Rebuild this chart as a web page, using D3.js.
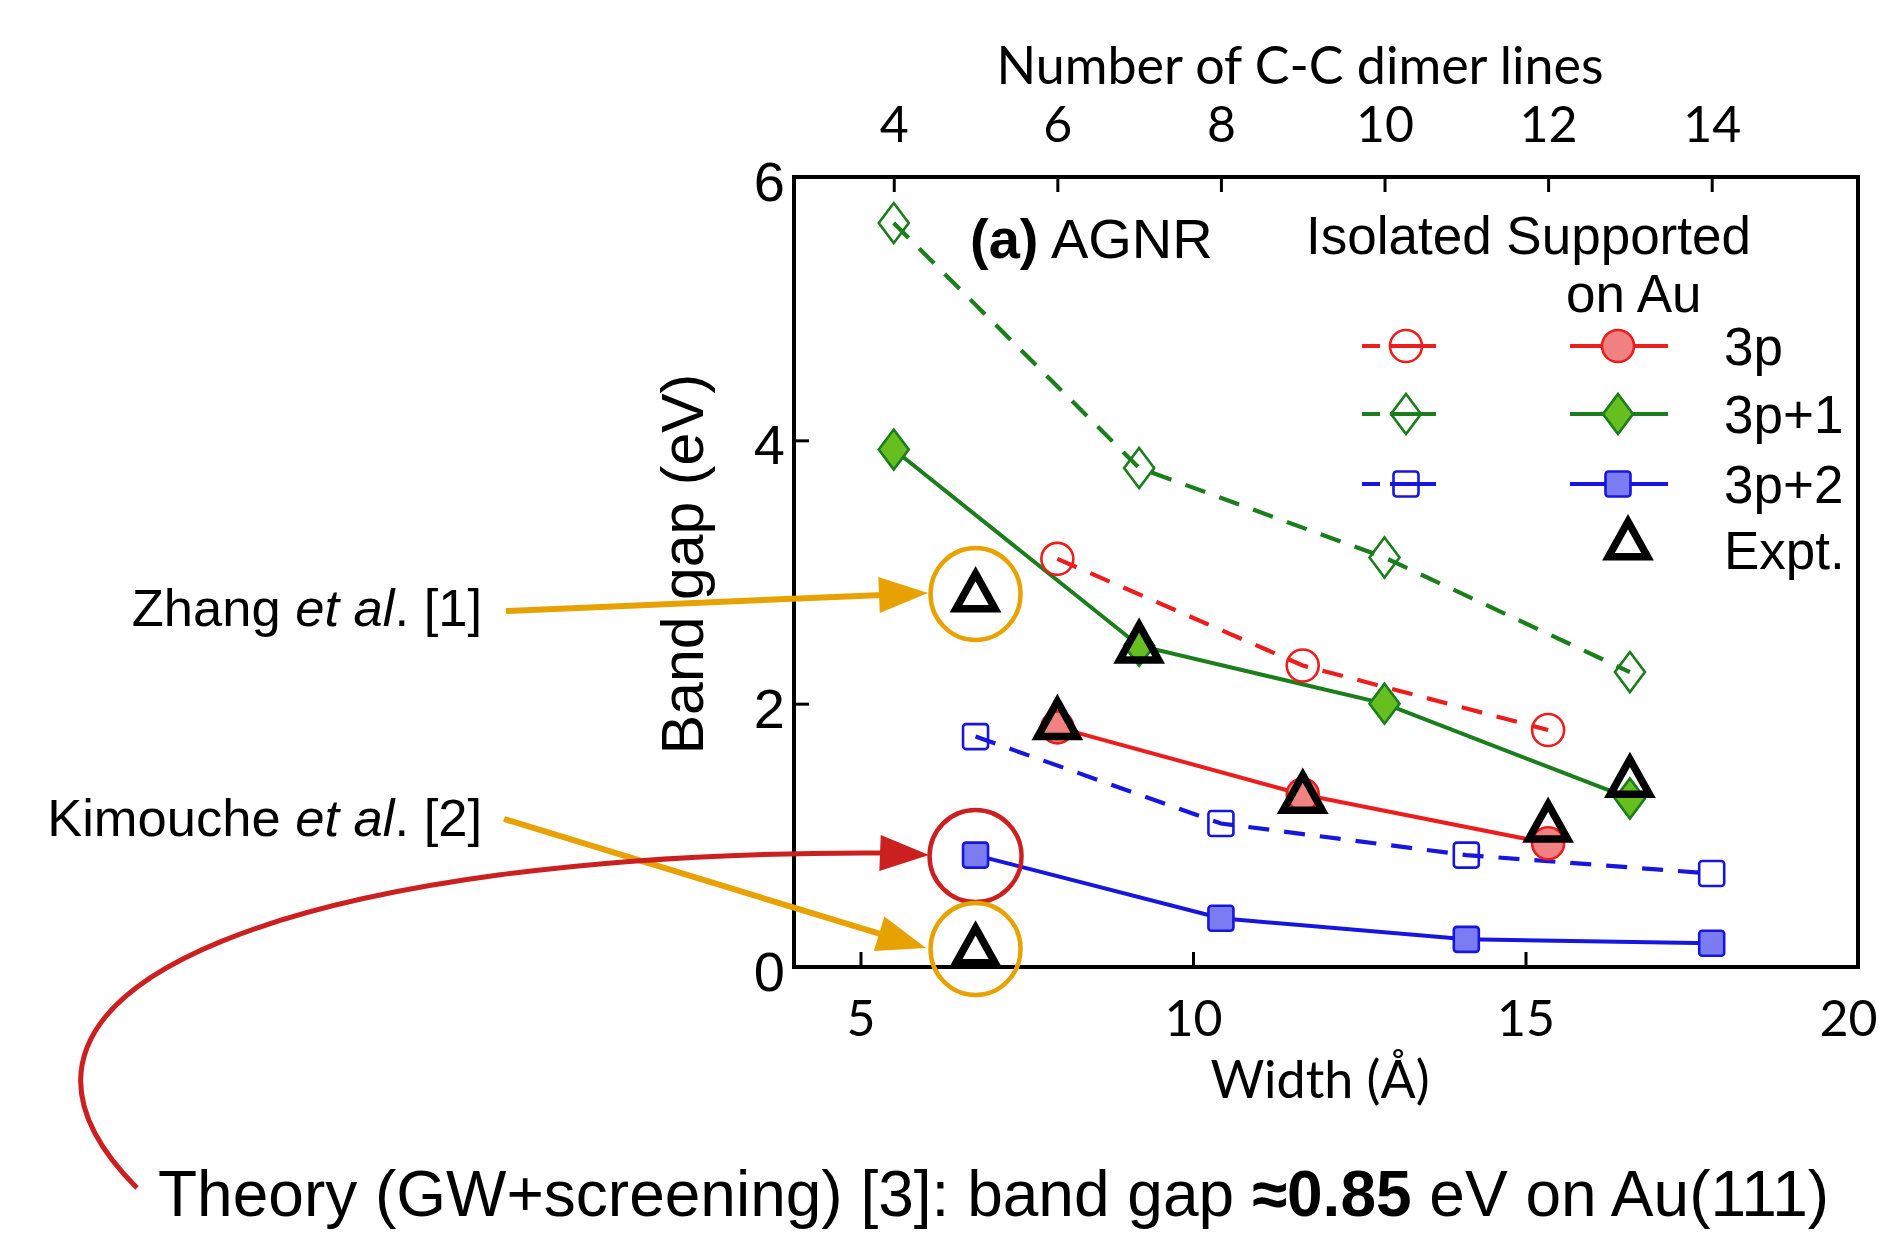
<!DOCTYPE html>
<html>
<head>
<meta charset="utf-8">
<script src="https://cdn.jsdelivr.net/npm/d3@7"></script>
<style>
  html, body { margin: 0; padding: 0; background: #fff; }
  svg { display: block; }
</style>
</head>
<body>
<svg id="chart" width="1882" height="1239"></svg>
<script>
// ---- Band gaps of armchair graphene nanoribbons (eV) by number of C-C dimer lines N ----
const n3p = [6, 9, 12];
const isolated3p = [3.10, 2.29, 1.80];
const supported3p = [1.82, 1.31, 0.94];

const n3p1 = [4, 7, 10, 13];
const isolated3p1 = [5.65, 3.79, 3.11, 2.24];
const supported3p1 = [3.93, 2.44, 2.00, 1.28];

const n3p2 = [5, 8, 11, 14];
const isolated3p2 = [1.75, 1.09, 0.85, 0.71];
const supported3p2 = [0.85, 0.37, 0.21, 0.18];

// experimental gaps
const exptN = [5, 5, 6, 7, 9, 12, 13];
const exptGap = [2.81, 0.12, 1.84, 2.42, 1.28, 1.06, 1.40];

// axis ticks
const widthTicks = [5, 10, 15, 20];
const dimerTicks = [4, 6, 8, 10, 12, 14];
const gapTicks = [0, 2, 4, 6];

const familyNames = ["3p", "3p+1", "3p+2"];

// ribbon width (Å) as a function of dimer lines
const widthPerLine = 1.23, widthOffset = 0.58;
const ribbonWidth = n => widthPerLine * n + widthOffset;

// ---- layout ----
const svg = d3.select("#chart");
const plot = { left: 794, right: 1858, top: 177, bottom: 967 };
const sansChart = "Lato, 'Open Sans', sans-serif";
const sansText = "'Liberation Sans', Arial, sans-serif";

const x = d3.scaleLinear().domain([4, 20]).range([plot.left, plot.right]);
const y = d3.scaleLinear().domain([0, 6]).range([plot.bottom, plot.top]);
const xTop = d3.scaleLinear()
  .domain([(4 - widthOffset) / widthPerLine, (20 - widthOffset) / widthPerLine])
  .range([plot.left, plot.right]);

// ---- axes ----
function styleAxis(g, font, size) {
  g.select(".domain").remove();
  g.selectAll(".tick line").attr("stroke", "#000").attr("stroke-width", 3);
  g.selectAll(".tick text").attr("fill", "#000")
    .attr("font-family", font).attr("font-size", size);
}

svg.append("g").attr("transform", `translate(0,${plot.bottom})`)
  .call(d3.axisBottom(x).tickValues(widthTicks).tickFormat(d3.format("d"))
    .tickSizeInner(-15).tickSizeOuter(0).tickPadding(33))
  .call(g => styleAxis(g, sansChart, 50))
  // keep the last label inside the page edge
  .call(g => g.selectAll(".tick text").filter(d => d === 20).attr("dx", -10));

svg.append("g").attr("transform", `translate(0,${plot.top})`)
  .call(d3.axisTop(xTop).tickValues(dimerTicks).tickFormat(d3.format("d"))
    .tickSizeInner(-15).tickSizeOuter(0).tickPadding(35))
  .call(g => styleAxis(g, sansChart, 50));

svg.append("g").attr("transform", `translate(${plot.left},0)`)
  .call(d3.axisLeft(y).tickValues(gapTicks).tickFormat(d3.format("d"))
    .tickSizeInner(-15).tickSizeOuter(0).tickPadding(9))
  .call(g => styleAxis(g, sansText, 56))
  .call(g => g.selectAll(".tick text").attr("dy", "0.42em"));

svg.append("rect")
  .attr("x", plot.left).attr("y", plot.top)
  .attr("width", plot.right - plot.left).attr("height", plot.bottom - plot.top)
  .attr("fill", "none").attr("stroke", "#000").attr("stroke-width", 4);

// axis titles
svg.append("text").attr("x", 1300).attr("y", 84).attr("text-anchor", "middle")
  .attr("font-family", sansChart).attr("font-size", 52).text("Number of C-C dimer lines");
svg.append("text").attr("x", 1320).attr("y", 1098).attr("text-anchor", "middle")
  .attr("font-family", sansChart).attr("font-size", 52).text("Width (Å)");
svg.append("text").attr("transform", "translate(682,564) rotate(-90)")
  .attr("text-anchor", "middle").attr("dy", "0.36em")
  .attr("font-family", sansText).attr("font-size", 59).text("Band gap (eV)");

// panel label
const panel = svg.append("text").attr("x", 970).attr("y", 258)
  .attr("font-family", sansText).attr("font-size", 56);
panel.append("tspan").attr("font-weight", "bold").text("(a)");
panel.append("tspan").text(" AGNR");

// ---- series ----
const families = [
  { name: familyNames[0], n: n3p, iso: isolated3p, sup: supported3p,
    line: "#ee1d1d", fill: "#f28282", shape: "circle" },
  { name: familyNames[1], n: n3p1, iso: isolated3p1, sup: supported3p1,
    line: "#1b7d1b", fill: "#66bf1f", shape: "diamond" },
  { name: familyNames[2], n: n3p2, iso: isolated3p2, sup: supported3p2,
    line: "#1616e0", fill: "#7c7cf2", shape: "square" }
];

const line = d3.line().x(d => d[0]).y(d => d[1]);
const dash = "21,15";

function marker(g, shape, cx, cy, stroke, fill) {
  if (shape === "circle") {
    g.append("circle").attr("cx", cx).attr("cy", cy).attr("r", 16)
      .attr("fill", fill).attr("stroke", stroke).attr("stroke-width", 2.6);
  } else if (shape === "diamond") {
    const hw = 15, hh = 20;
    g.append("path")
      .attr("d", `M${cx},${cy - hh}L${cx + hw},${cy}L${cx},${cy + hh}L${cx - hw},${cy}Z`)
      .attr("fill", fill).attr("stroke", stroke).attr("stroke-width", 2.6);
  } else if (shape === "square") {
    g.append("rect").attr("x", cx - 12.5).attr("y", cy - 12.5)
      .attr("width", 25).attr("height", 25).attr("rx", 3)
      .attr("fill", fill).attr("stroke", stroke).attr("stroke-width", 2.6);
  }
}

function triangle(g, cx, cy) {
  const w = 39, h = 35;
  g.append("path")
    .attr("d", `M${cx},${cy - 2 * h / 3}L${cx + w / 2},${cy + h / 3}L${cx - w / 2},${cy + h / 3}Z`)
    .attr("fill", "none").attr("stroke", "#000").attr("stroke-width", 7.5)
    .attr("stroke-linejoin", "miter");
}

const gLines = svg.append("g");
const gMarks = svg.append("g");

families.forEach(f => {
  const isoPts = f.n.map((n, i) => [x(ribbonWidth(n)), y(f.iso[i])]);
  const supPts = f.n.map((n, i) => [x(ribbonWidth(n)), y(f.sup[i])]);
  gLines.append("path").attr("d", line(isoPts)).attr("fill", "none")
    .attr("stroke", f.line).attr("stroke-width", 4.2).attr("stroke-dasharray", dash);
  gLines.append("path").attr("d", line(supPts)).attr("fill", "none")
    .attr("stroke", f.line).attr("stroke-width", 4);
  isoPts.forEach(p => marker(gMarks, f.shape, p[0], p[1], f.line, "none"));
  supPts.forEach(p => marker(gMarks, f.shape, p[0], p[1], f.line, f.fill));
});

const gExpt = svg.append("g");
exptN.forEach((n, i) => triangle(gExpt, x(ribbonWidth(n)), y(exptGap[i])));

// ---- legend ----
const lg = svg.append("g").attr("font-family", sansText).attr("font-size", 53);
lg.append("text").attr("x", 1306).attr("y", 254).text("Isolated Supported");
lg.append("text").attr("x", 1566).attr("y", 312).text("on Au");
const rowY = [346, 414, 484];
families.forEach((f, i) => {
  const ry = rowY[i];
  lg.append("line").attr("x1", 1362).attr("x2", 1436).attr("y1", ry).attr("y2", ry)
    .attr("stroke", f.line).attr("stroke-width", 4).attr("stroke-dasharray", "18,10,60");
  marker(lg, f.shape, 1406, ry, f.line, "none");
  lg.append("line").attr("x1", 1570).attr("x2", 1668).attr("y1", ry).attr("y2", ry)
    .attr("stroke", f.line).attr("stroke-width", 4);
  marker(lg, f.shape, 1618, ry, f.line, f.fill);
  lg.append("text").attr("x", 1724).attr("y", ry + 19).text(f.name);
});
triangle(lg, 1628, 545);
lg.append("text").attr("x", 1724).attr("y", 569).text("Expt.");

// ---- annotations ----
const orange = "#e8a200", annRed = "#cc2020";
const ann = svg.append("g");

function ring(cx, cy, rx, ry, color) {
  ann.append("ellipse").attr("cx", cx).attr("cy", cy).attr("rx", rx).attr("ry", ry)
    .attr("fill", "none").attr("stroke", color).attr("stroke-width", 4.5);
}
function head(tipX, tipY, dirX, dirY, color, len, wid) {
  const L = Math.hypot(dirX, dirY), ux = dirX / L, uy = dirY / L;
  const bx = tipX - ux * len, by = tipY - uy * len;
  const px = -uy * wid / 2, py = ux * wid / 2;
  ann.append("path")
    .attr("d", `M${tipX},${tipY}L${bx + px},${by + py}L${bx - px},${by - py}Z`)
    .attr("fill", color);
  return [bx, by];
}
function arrow(x1, y1, x2, y2, color) {
  const base = head(x2, y2, x2 - x1, y2 - y1, color, 49, 36);
  ann.append("line").attr("x1", x1).attr("y1", y1).attr("x2", base[0] + (x2 - x1) * 0.01)
    .attr("y2", base[1] + (y2 - y1) * 0.01)
    .attr("stroke", color).attr("stroke-width", 6);
}

const cx5 = x(ribbonWidth(5));
ring(cx5, 594, 45, 46, orange);
ring(cx5, y(supported3p2[0]) + 1, 46, 46, annRed);
ring(cx5, 949, 45, 46, orange);

arrow(506, 611, 928, 593, orange);
arrow(504, 819, 926, 948, orange);

ann.append("path").attr("d", "M137,1188 C-70,980 320,850 884,853")
  .attr("fill", "none").attr("stroke", annRed).attr("stroke-width", 5);
head(929, 855, 1, 0.04, annRed, 49, 36);

// ---- side notes ----
const notes = svg.append("g").attr("font-family", sansText).attr("font-size", 52.5)
  .attr("text-anchor", "end");
const zhang = notes.append("text").attr("x", 482).attr("y", 626);
zhang.append("tspan").text("Zhang ");
zhang.append("tspan").attr("font-style", "italic").text("et al");
zhang.append("tspan").text(". [1]");
const kim = notes.append("text").attr("x", 482).attr("y", 836);
kim.append("tspan").text("Kimouche ");
kim.append("tspan").attr("font-style", "italic").text("et al");
kim.append("tspan").text(". [2]");

const theory = svg.append("text").attr("x", 158).attr("y", 1216)
  .attr("font-family", sansText).attr("font-size", 64);
theory.append("tspan").text("Theory (GW+screening) [3]: band gap ");
theory.append("tspan").attr("font-weight", "bold").text("≈0.85");
theory.append("tspan").text(" eV on Au(111)");
</script>
</body>
</html>
